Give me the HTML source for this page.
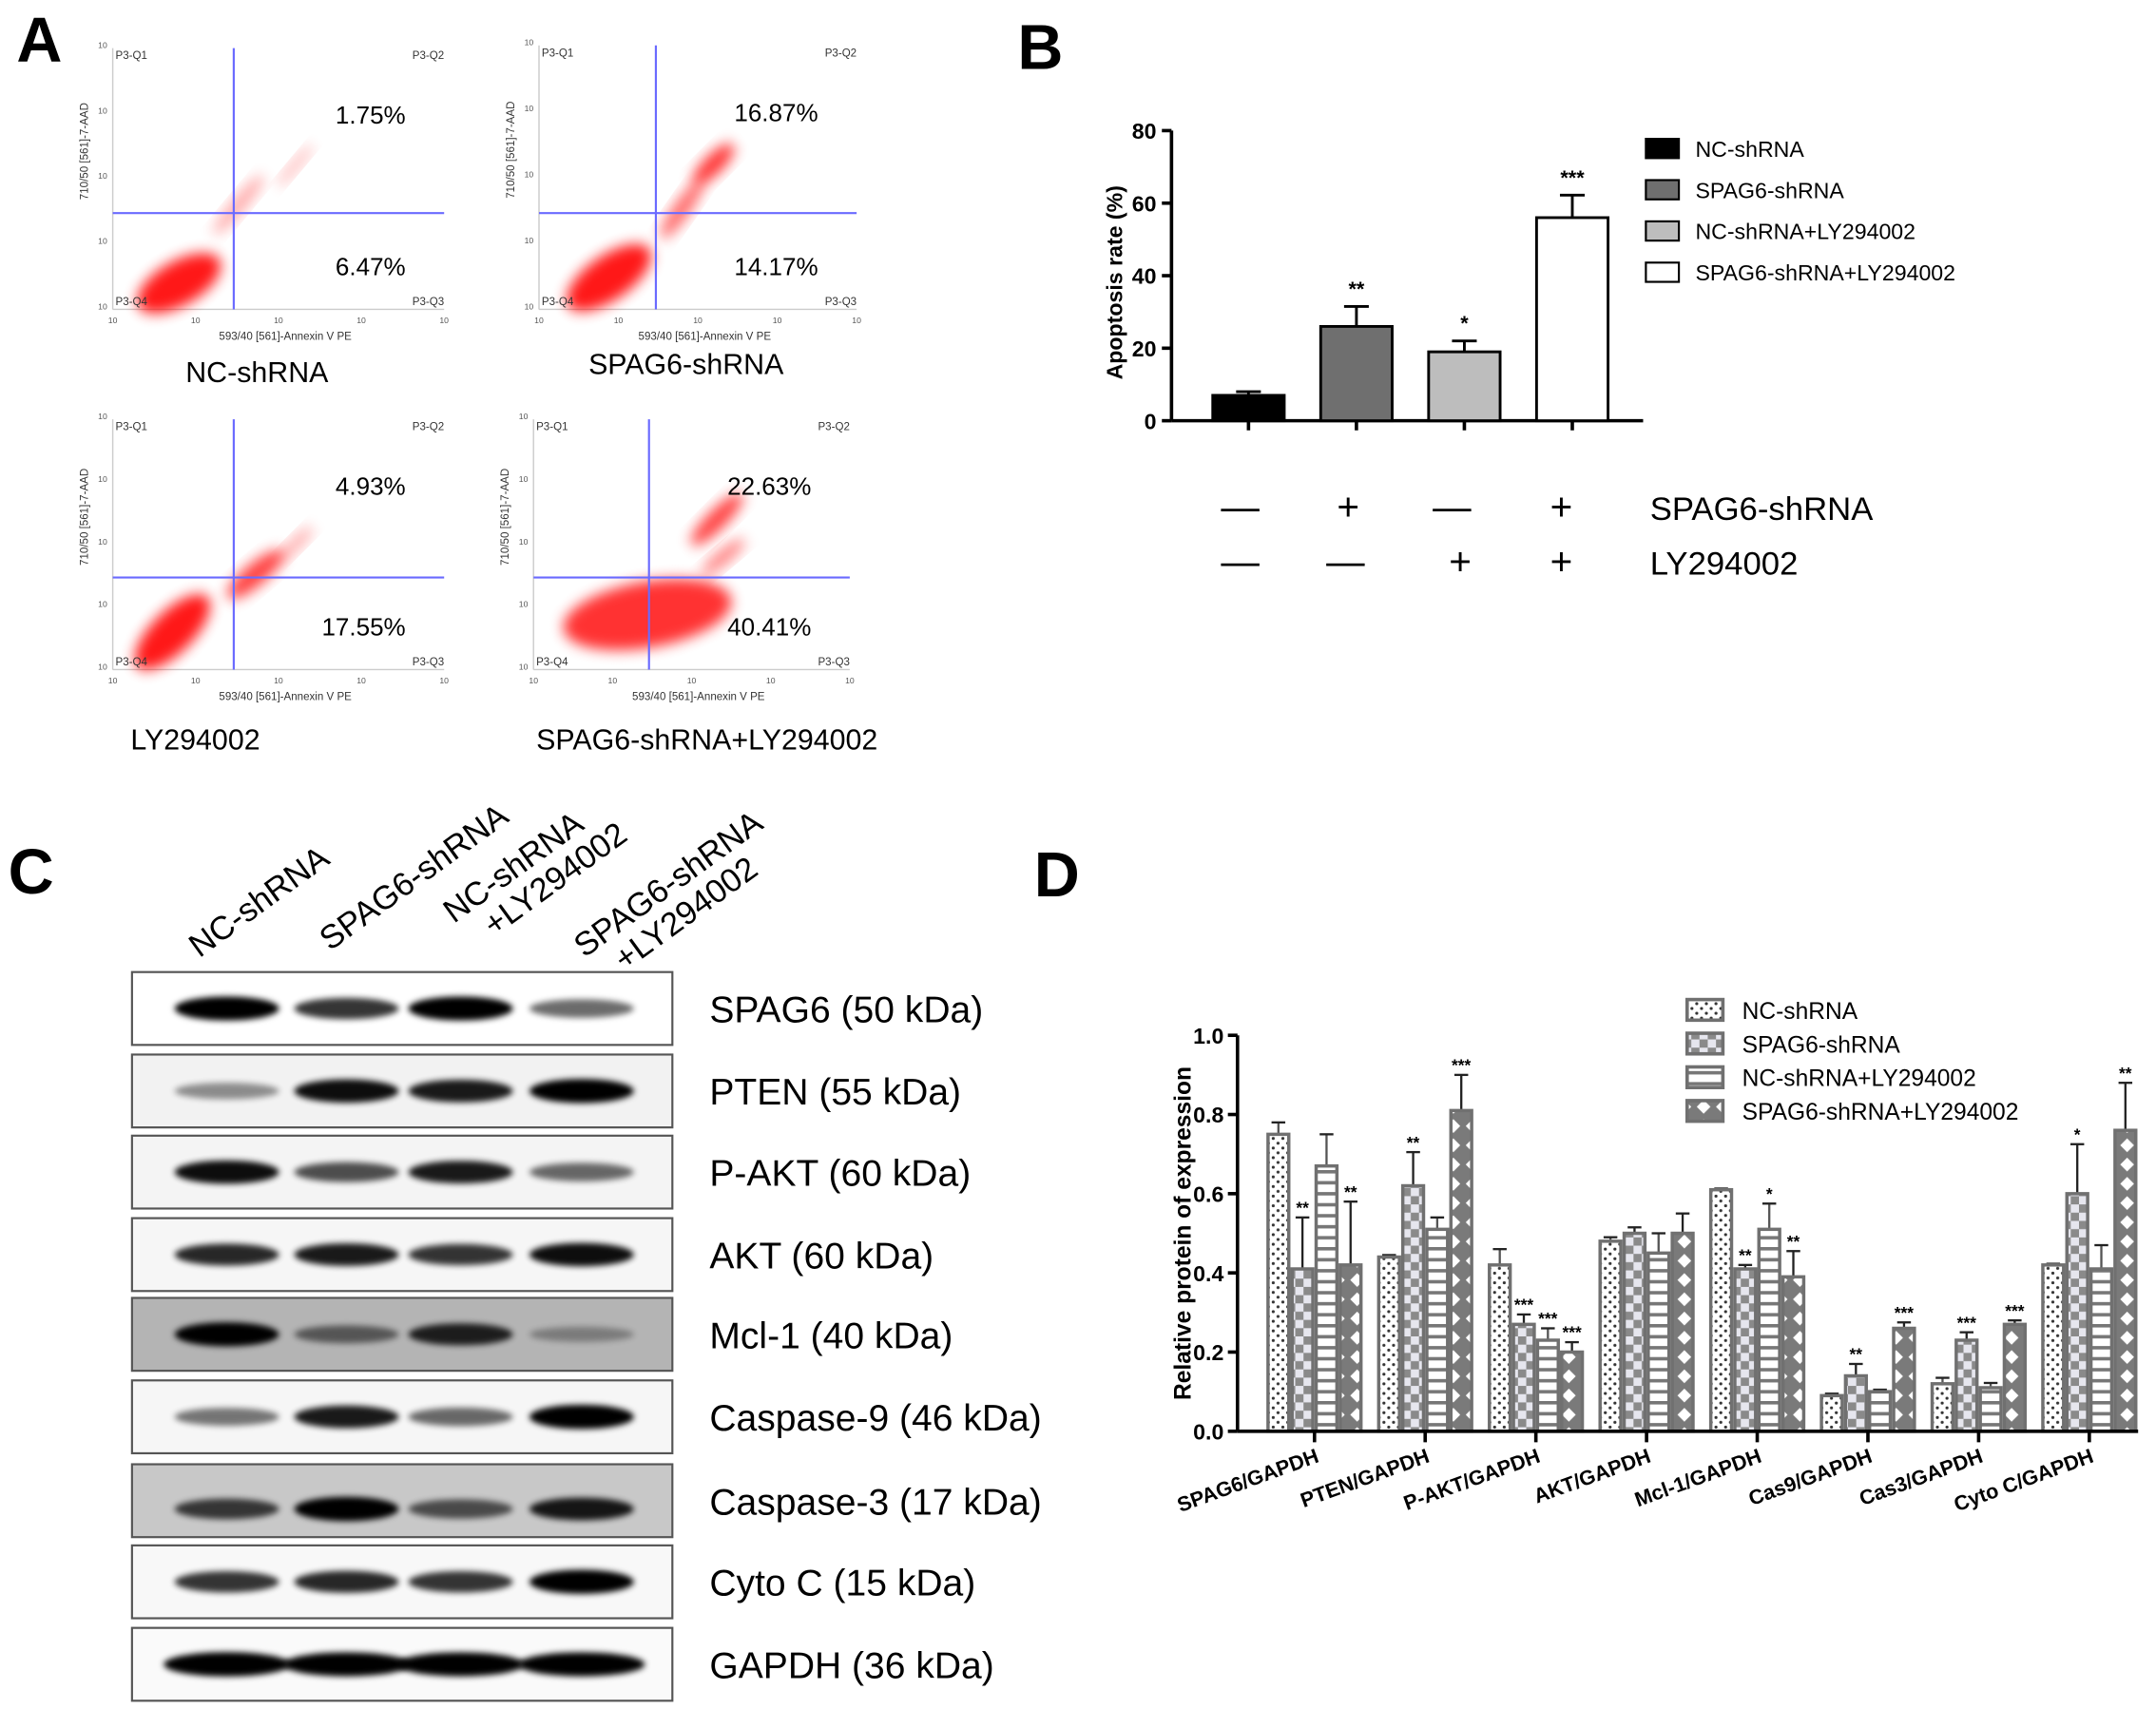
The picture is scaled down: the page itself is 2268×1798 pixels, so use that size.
<!DOCTYPE html>
<html><head><meta charset="utf-8"><style>
html,body{margin:0;padding:0;background:#fff}
svg{display:block}
text{font-family:"Liberation Sans",sans-serif}
</style></head><body>
<svg id="fig" width="2268" height="1798" viewBox="0 0 1568 1243" preserveAspectRatio="none" xmlns="http://www.w3.org/2000/svg">
<defs>
<filter id="blur2" x="-50%" y="-50%" width="200%" height="200%"><feGaussianBlur stdDeviation="2.2"/></filter>
<filter id="blur6" x="-50%" y="-50%" width="200%" height="200%"><feGaussianBlur stdDeviation="5"/></filter>
<pattern id="pDots" width="7" height="7" patternUnits="userSpaceOnUse"><rect width="7" height="7" fill="#fff"/><circle cx="2" cy="2" r="1.1" fill="#333"/><circle cx="5.5" cy="5.5" r="1.1" fill="#333"/></pattern>
<pattern id="pCheck" width="12" height="12" patternUnits="userSpaceOnUse"><rect width="12" height="12" fill="#e6e6ee"/><rect width="6" height="6" fill="#8a8a8a"/><rect x="6" y="6" width="6" height="6" fill="#8a8a8a"/></pattern>
<pattern id="pStripe" width="8" height="8" patternUnits="userSpaceOnUse"><rect width="8" height="8" fill="#fff"/><rect y="3" width="8" height="2.5" fill="#777"/></pattern>
<pattern id="pDiam" width="14" height="14" patternUnits="userSpaceOnUse"><rect width="14" height="14" fill="#7a7a7a"/><polygon points="7,2 12,7 7,12 2,7" fill="#fff"/></pattern>
</defs>
<g id="panelA"></g>
<g id="panelB"></g>
<g id="panelC"></g>
<g id="panelD"></g>
</svg>
<script>
// ---- Panel B data ----
const bCategories = ["NC-shRNA","SPAG6-shRNA","NC-shRNA+LY294002","SPAG6-shRNA+LY294002"];
const bValues = [7, 26, 19, 56];
const bErrors = [1, 5.5, 3, 6.2];
const bStars = ["", "**", "*", "***"];
const bTicks = [0, 20, 40, 60, 80];
const bFills = ["#000","#6f6f6f","#bdbdbd","#fff"];
const bSpag6Row = ["—","+","—","+"];
const bLyRow = ["—","—","+","+"];

// ---- Panel D data ----
const dCategories = ["SPAG6/GAPDH","PTEN/GAPDH","P-AKT/GAPDH","AKT/GAPDH","Mcl-1/GAPDH","Cas9/GAPDH","Cas3/GAPDH","Cyto C/GAPDH"];
const dSeriesNames = ["NC-shRNA","SPAG6-shRNA","NC-shRNA+LY294002","SPAG6-shRNA+LY294002"];
const dNC = [0.75, 0.44, 0.42, 0.48, 0.61, 0.09, 0.12, 0.42];
const dSPAG6 = [0.41, 0.62, 0.27, 0.50, 0.41, 0.14, 0.23, 0.60];
const dNCLY = [0.67, 0.51, 0.23, 0.45, 0.51, 0.10, 0.11, 0.41];
const dSPAG6LY = [0.42, 0.81, 0.20, 0.50, 0.39, 0.26, 0.27, 0.76];
const dErrNC = [0.03, 0.005, 0.04, 0.01, 0.003, 0.005, 0.015, 0.003];
const dErrSPAG6 = [0.13, 0.085, 0.025, 0.015, 0.01, 0.03, 0.02, 0.125];
const dErrNCLY = [0.08, 0.03, 0.03, 0.05, 0.065, 0.005, 0.012, 0.06];
const dErrSPAG6LY = [0.16, 0.09, 0.025, 0.05, 0.065, 0.015, 0.01, 0.12];
const dStarsNC = ["","","","","","","",""];
const dStarsSPAG6 = ["**","**","***","","**","**","***","*"];
const dStarsNCLY = ["","","***","","*","","",""];
const dStarsSPAG6LY = ["**","***","***","","**","***","***","**"];
const dTicks = [0.0, 0.2, 0.4, 0.6, 0.8, 1.0];

// ---- Panel A data ----
const aLabels = ["NC-shRNA","SPAG6-shRNA","LY294002","SPAG6-shRNA+LY294002"];
const aQ2 = ["1.75%","16.87%","4.93%","22.63%"];
const aQ3 = ["6.47%","14.17%","17.55%","40.41%"];

// ---- Panel C data ----
const cProteins = ["SPAG6 (50 kDa)","PTEN (55 kDa)","P-AKT (60 kDa)","AKT (60 kDa)","Mcl-1 (40 kDa)","Caspase-9 (46 kDa)","Caspase-3 (17 kDa)","Cyto C (15 kDa)","GAPDH (36 kDa)"];
const cIntensity = [
 [0.95,0.75,0.95,0.55],
 [0.4,0.9,0.85,0.95],
 [0.9,0.65,0.85,0.55],
 [0.8,0.85,0.75,0.9],
 [0.95,0.5,0.8,0.3],
 [0.5,0.85,0.55,0.97],
 [0.7,0.97,0.6,0.85],
 [0.75,0.8,0.75,0.95],
 [0.97,0.95,0.95,0.95]
];
const cLanes = ["NC-shRNA","SPAG6-shRNA","NC-shRNA\n+LY294002","SPAG6-shRNA\n+LY294002"];

const NS="http://www.w3.org/2000/svg";
function mk(tag, attrs, parent){const e=document.createElementNS(NS,tag);for(const k in attrs)e.setAttribute(k,attrs[k]);parent.appendChild(e);return e;}
function txt(s, attrs, parent){const e=mk('text',attrs,parent);e.textContent=s;return e;}

// ================= Panel letters
const fig=document.getElementById('fig');
[["A",12,45],["B",740,50],["C",6,650],["D",752,652]].forEach(l=>{
 const t=txt(l[0],{x:l[1],y:l[2],'font-size':46,'font-weight':'bold'},fig);
 
 
});

// ================= Panel A
const pA=document.getElementById('panelA');
const plots=[{x0:82,x1:323,y0:35,y1:225,vx:170,hy:155,lx:135,ly:278,cloud:0},
 {x0:392,x1:623,y0:33,y1:225,vx:477,hy:155,lx:428,ly:272,cloud:1},
 {x0:82,x1:323,y0:305,y1:487,vx:170,hy:420,lx:95,ly:545,cloud:2},
 {x0:388,x1:618,y0:305,y1:487,vx:472,hy:420,lx:390,ly:545,cloud:3}];
const clouds=[
 [[0.2,0.9,34,16,-30,0.9],[0.38,0.6,28,5,-50,0.35],[0.55,0.45,20,3,-50,0.3]],
 [[0.22,0.88,36,16,-35,0.9],[0.45,0.62,26,6,-55,0.6],[0.55,0.45,20,7,-45,0.8]],
 [[0.18,0.85,36,15,-45,0.9],[0.43,0.62,26,8,-40,0.75],[0.55,0.5,18,4,-45,0.35]],
 [[0.36,0.78,62,24,-10,0.8],[0.58,0.4,26,7,-45,0.75],[0.6,0.55,20,5,-40,0.5]]
];
plots.forEach((p,i)=>{
 const g=mk('g',{},pA);
 
 
 mk('line',{x1:p.x0,y1:p.y0,x2:p.x0,y2:p.y1,stroke:'#ccc','stroke-width':1},g);
 mk('line',{x1:p.x0,y1:p.y1,x2:p.x1,y2:p.y1,stroke:'#ccc','stroke-width':1},g);
 clouds[p.cloud].forEach(c=>{
  const cx=p.x0+c[0]*(p.x1-p.x0), cy=p.y0+c[1]*(p.y1-p.y0);
  const e=mk('ellipse',{cx:cx,cy:cy,rx:c[2],ry:c[3],fill:'#f00',opacity:c[5],transform:`rotate(${c[4]} ${cx} ${cy})`,filter:'url(#blur6)'},g);
  
  
 });
 mk('line',{x1:p.vx,y1:p.y0,x2:p.vx,y2:p.y1,stroke:'#6a6aff','stroke-width':1.5},g);
 mk('line',{x1:p.x0,y1:p.hy,x2:p.x1,y2:p.hy,stroke:'#6a6aff','stroke-width':1.5},g);
 [["P3-Q1",p.x0+2,p.y0+8,'start'],["P3-Q2",p.x1,p.y0+8,'end'],["P3-Q4",p.x0+2,p.y1-3,'start'],["P3-Q3",p.x1,p.y1-3,'end']].forEach(q=>txt(q[0],{x:q[1],y:q[2],'font-size':8,fill:'#333','text-anchor':q[3]},g));
 const t2=txt(aQ2[i],{x:p.x1-28,y:p.y0+55,'font-size':18,'text-anchor':'end'},g);
 
 const t3=txt(aQ3[i],{x:p.x1-28,y:p.y1-25,'font-size':18,'text-anchor':'end'},g);
 
 txt("593/40 [561]-Annexin V PE",{x:(p.x0+p.x1)/2+5,y:p.y1+22,'font-size':8,'text-anchor':'middle',fill:'#333'},g);
 txt("710/50 [561]-7-AAD",{x:0,y:0,'font-size':8,'text-anchor':'middle',fill:'#333',transform:`translate(${p.x0-18},${(p.y0+p.y1)/2-20}) rotate(-90)`},g);
 for(let k=0;k<5;k++){txt("10",{x:p.x0+k*(p.x1-p.x0)/4,y:p.y1+10,'font-size':6,'text-anchor':'middle',fill:'#555'},g);
  txt("10",{x:p.x0-4,y:p.y1-k*(p.y1-p.y0)/4,'font-size':6,'text-anchor':'end',fill:'#555'},g);}
 const lb=txt(aLabels[i],{x:p.lx,y:p.ly,'font-size':21},g);
 
});

// ================= Panel B
const pB=document.getElementById('panelB');
const bx0=852,bxEnd=1195,by0=306,by1=95,bMax=80;
const bY=v=>by0-(v/bMax)*(by0-by1);
const bX=i=>908+i*78.5;
mk('line',{x1:bx0,y1:by1,x2:bx0,y2:by0,stroke:'#000','stroke-width':2.5},pB);
mk('line',{x1:bx0,y1:by0,x2:bxEnd,y2:by0,stroke:'#000','stroke-width':2.5},pB);
bTicks.forEach(t=>{mk('line',{x1:bx0-7,y1:bY(t),x2:bx0,y2:bY(t),stroke:'#000','stroke-width':2.5},pB);
 txt(String(t),{x:bx0-11,y:bY(t)+6,'font-size':16,'font-weight':'bold','text-anchor':'end'},pB);});
const byt=txt("Apoptosis rate (%)",{x:0,y:0,'font-size':16,'font-weight':'bold','text-anchor':'middle',transform:`translate(816,${(by0+by1)/2+5}) rotate(-90)`},pB);

bValues.forEach((v,i)=>{
 const cx=bX(i),w=52;
 mk('line',{x1:cx,y1:bY(v),x2:cx,y2:bY(v+bErrors[i]),stroke:'#000','stroke-width':2},pB);
 mk('line',{x1:cx-9,y1:bY(v+bErrors[i]),x2:cx+9,y2:bY(v+bErrors[i]),stroke:'#000','stroke-width':2},pB);
 const r=mk('rect',{x:cx-w/2,y:bY(v),width:w,height:by0-bY(v),fill:bFills[i],stroke:'#000','stroke-width':2},pB);
 
 
 mk('line',{x1:cx,y1:by0,x2:cx,y2:by0+7,stroke:'#000','stroke-width':2.5},pB);
 if(bStars[i])txt(bStars[i],{x:cx,y:bY(v+bErrors[i])-8,'font-size':15,'font-weight':'bold','text-anchor':'middle'},pB);
 txt(bSpag6Row[i]==="+"?"+":"—",{x:bX(i)-6+(i===0?0:i===1?0:i===2?-3:-2),y:378,'font-size':28,'text-anchor':'middle'},pB);
 txt(bLyRow[i]==="+"?"+":"—",{x:bX(i)-6+(i===2?3:i===3?-2:i===1?-2:0),y:418,'font-size':28,'text-anchor':'middle'},pB);
});
txt("SPAG6-shRNA",{x:1200,y:378,'font-size':24},pB);
txt("LY294002",{x:1200,y:418,'font-size':24},pB);
bCategories.forEach((c,i)=>{
 const g=mk('g',{},pB);
 
 
 const y=101+i*30;
 mk('rect',{x:1197,y:y,width:24,height:14,fill:bFills[i],stroke:'#000','stroke-width':1.5},g);
 txt(c,{x:1233,y:y+13,'font-size':16},g);
});

// ================= Panel C
const pC=document.getElementById('panelC');
const rowsY=[707,767,826,886,944,1004,1065,1124,1184],rowH=53;
const laneX=[165,252,335,423];
const bgFill=["#fff","#f2f2f2","#f4f4f4","#f6f6f6","#b4b4b4","#f6f6f6","#c8c8c8","#f8f8f8","#fafafa"];
cProteins.forEach((p,r)=>{
 const g=mk('g',{},pC);
 
 
 mk('rect',{x:96,y:rowsY[r],width:393,height:rowH,fill:bgFill[r],stroke:'#555','stroke-width':1.5},g);
 cIntensity[r].forEach((v,l)=>{
  const b=mk('ellipse',{cx:laneX[l],cy:rowsY[r]+rowH/2+(r===6?6:0),rx:38+(r===8?8:0),ry:4+v*5,fill:'#000',opacity:Math.min(1,v*1.05),filter:'url(#blur2)'},g);
  
  
 });
 txt(p,{x:516,y:rowsY[r]+rowH/2+10,'font-size':27},g);
});
const laneLabels=[[145,697,["NC-shRNA"]],[240,692,["SPAG6-shRNA"]],[330,672,["NC-shRNA","+LY294002"]],[425,697,["SPAG6-shRNA","+LY294002"]]];
laneLabels.forEach(L=>{
 const t=mk('text',{x:0,y:0,'font-size':24,transform:`translate(${L[0]},${L[1]}) rotate(-36)`},pC);
 
 
 L[2].forEach((s,k)=>{const ts=mk('tspan',{x:k*18,dy:k?25:0},t);ts.textContent=s;});
});

// ================= Panel D
const pD=document.getElementById('panelD');
const dx0=900,dxEnd=1555,dy0=1041,dy1=753;
const dY=v=>dy0-v*(dy0-dy1);
const dGroupX=i=>921+i*80.5;
const bw=17.5;
const series=[dNC,dSPAG6,dNCLY,dSPAG6LY],errs=[dErrNC,dErrSPAG6,dErrNCLY,dErrSPAG6LY],stars=[dStarsNC,dStarsSPAG6,dStarsNCLY,dStarsSPAG6LY];
const pats=["url(#pDots)","url(#pCheck)","url(#pStripe)","url(#pDiam)"];
dCategories.forEach((c,i)=>{
 series.forEach((s,k)=>{
  const x=dGroupX(i)+k*bw,v=s[i],e=errs[k][i];
  mk('line',{x1:x+bw/2,y1:dY(v),x2:x+bw/2,y2:dY(v+e),stroke:k%2?'#222':'#555','stroke-width':1.6},pD);
  mk('line',{x1:x+bw/2-5,y1:dY(v+e),x2:x+bw/2+5,y2:dY(v+e),stroke:'#222','stroke-width':1.6},pD);
  const r=mk('rect',{x:x+1.2,y:dY(v),width:bw-2.4,height:dy0-dY(v),fill:pats[k],stroke:'#707070','stroke-width':2.4},pD);
  
  
  if(stars[k][i])txt(stars[k][i],{x:x+bw/2,y:dY(v+e)-3,'font-size':12,'font-weight':'bold','text-anchor':'middle'},pD);
 });
 const tx=dGroupX(i)+2*bw;
 mk('line',{x1:tx,y1:dy0,x2:tx,y2:dy0+8,stroke:'#000','stroke-width':2.5},pD);
 const lt=txt(c,{x:0,y:0,'font-size':15,'font-weight':'bold','text-anchor':'end',transform:`translate(${tx+4},${dy0+22}) rotate(-20)`},pD);
 
});
mk('line',{x1:dx0,y1:dy1,x2:dx0,y2:dy0,stroke:'#000','stroke-width':2.5},pD);
mk('line',{x1:dx0,y1:dy0,x2:dxEnd,y2:dy0,stroke:'#000','stroke-width':2.5},pD);
dTicks.forEach(t=>{mk('line',{x1:dx0-7,y1:dY(t),x2:dx0,y2:dY(t),stroke:'#000','stroke-width':2.5},pD);
 txt(t.toFixed(1),{x:dx0-10,y:dY(t)+6,'font-size':16,'font-weight':'bold','text-anchor':'end'},pD);});
const dyt=txt("Relative protein of expression",{x:0,y:0,'font-size':17,'font-weight':'bold','text-anchor':'middle',transform:`translate(866,${(dy0+dy1)/2}) rotate(-90)`},pD);

dSeriesNames.forEach((n,k)=>{
 const g=mk('g',{},pD);
 
 
 const y=727+k*24.5;
 mk('rect',{x:1227,y:y,width:26,height:15,fill:pats[k],stroke:'#707070','stroke-width':2.5},g);
 txt(n,{x:1267,y:y+14,'font-size':17},g);
});
</script>
</body></html>
